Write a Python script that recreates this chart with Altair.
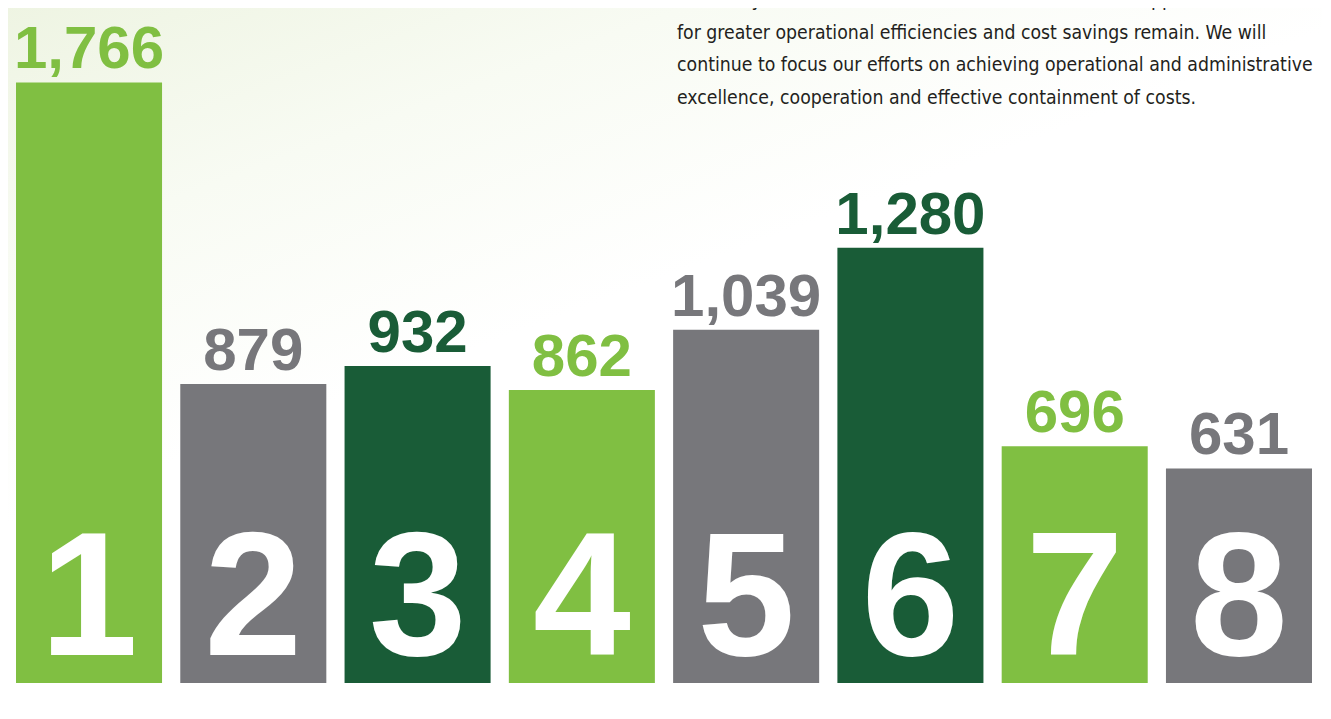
import altair as alt
import pandas as pd

ranks = ["1", "2", "3", "4", "5", "6", "7", "8"]
values = [1766, 879, 932, 862, 1039, 1280, 696, 631]
labels = ["1,766", "879", "932", "862", "1,039", "1,280", "696", "631"]
colors = ["#80bf42", "#77777b", "#195c37", "#80bf42", "#77777b", "#195c37", "#80bf42", "#77777b"]

para_lines = [
    "After 27 years, our business model has matured, but opportunities",
    "for greater operational efficiencies and cost savings remain. We will",
    "continue to focus our efforts on achieving operational and administrative",
    "excellence, cooperation and effective containment of costs.",
]

df = pd.DataFrame({"rank": ranks, "value": values, "label": labels, "color": colors})
tdf = pd.DataFrame({"line": para_lines, "i": list(range(len(para_lines)))})

W, H = 1296, 675
PFONT = "DejaVu Sans Condensed, sans-serif"
NFONT = "Liberation Sans, Arial, sans-serif"

x = alt.X("rank:N", sort=ranks, axis=None,
          scale=alt.Scale(paddingInner=0.111, paddingOuter=0))
y = alt.Y("value:Q", axis=None, scale=alt.Scale(domain=[0, 1985], nice=False, zero=True))

bg = alt.Chart(pd.DataFrame({"a": [0]})).mark_rect(
    color={
        "gradient": "linear", "x1": 0, "y1": 0, "x2": 0.7, "y2": 1,
        "stops": [
            {"offset": 0, "color": "#eef4e2"},
            {"offset": 0.25, "color": "#f8fbf3"},
            {"offset": 0.5, "color": "#ffffff"},
            {"offset": 1, "color": "#ffffff"},
        ],
    }
).encode(x=alt.value(-8), x2=alt.value(W + 10), y=alt.value(-8), y2=alt.value(H + 20))

base = alt.Chart(df)

bars = base.mark_bar().encode(
    x=x, y=y, color=alt.Color("color:N", scale=None)
)

vals = base.mark_text(
    font=NFONT, fontWeight="bold", fontSize=60, baseline="alphabetic", dy=-14
).encode(x=x, y=y, text="label:N", color=alt.Color("color:N", scale=None))

nums = base.mark_text(
    font=NFONT, fontWeight="bold", fontSize=176, baseline="alphabetic", color="#ffffff"
).encode(x=x, y=alt.value(H - 28), text="rank:N")

para = alt.Chart(tdf).mark_text(
    font=PFONT, fontSize=19.3, align="left", baseline="alphabetic", color="#231f20"
).encode(
    x=alt.value(661),
    y=alt.Y("i:Q", axis=None, scale=alt.Scale(domain=[0, 3], range=[-2, 96])),
    text="line:N",
)

chart = alt.layer(bg, bars, vals, nums, para).resolve_scale(
    y="independent"
).properties(
    width=W, height=H,
    autosize=alt.AutoSizeParams(type="none"),
    padding={"left": 8, "top": 0, "right": 10, "bottom": 20},
    background="#ffffff",
).configure_view(stroke=None)

chart.save("out.html", embed_options={"renderer": "svg", "actions": False})
